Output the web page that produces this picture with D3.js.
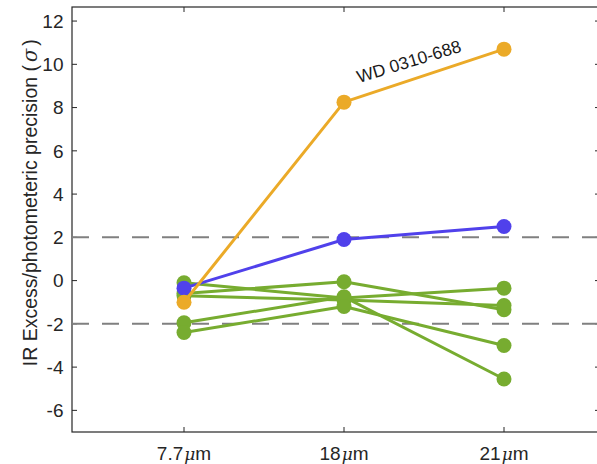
<!DOCTYPE html>
<html><head><meta charset="utf-8">
<script src="https://cdn.jsdelivr.net/npm/d3@7"></script>
<style>body{margin:0;background:#fff}svg{display:block}</style>
</head><body>
<svg id="c" width="597" height="464"></svg>
<script>
const categories = ["7.7", "18", "21"];
const yTicks = [-6,-4,-2,0,2,4,6,8,10,12];
const orangeSeries = [-1.0, 8.25, 10.7];
const blueSeries = [-0.35, 1.9, 2.5];
const greenSeries = [
  [-0.1, -0.8, -0.35],
  [-0.6, -0.05, -1.35],
  [-0.7, -0.9, -1.15],
  [-1.95, -0.75, -4.55],
  [-2.4, -1.2, -3.0]
];
const thresholds = [2, -2];
const annotation = "WD 0310-688";

const svg = d3.select("#c");
const x = d3.scaleLinear().domain([0.3, 3.6]).range([72, 600]);
const y = d3.scaleLinear().domain([-7, 12.65]).range([432, 7]);
const font = "'Liberation Sans', Helvetica, Arial, sans-serif";
const axisColor = "#262626";

// frame
svg.append("rect").attr("x", 72).attr("y", 7).attr("width", 600-72).attr("height", 425)
  .attr("fill", "none").attr("stroke", axisColor).attr("stroke-width", 1.2);

// y ticks
const ya = svg.append("g");
yTicks.forEach(t => {
  ya.append("line").attr("x1", 72).attr("x2", 77).attr("y1", y(t)).attr("y2", y(t)).attr("stroke", axisColor);
  ya.append("line").attr("x1", 600).attr("x2", 595).attr("y1", y(t)).attr("y2", y(t)).attr("stroke", axisColor);
  ya.append("text").attr("x", 63.5).attr("y", y(t)).attr("dy", "0.36em").attr("text-anchor", "end")
    .attr("font-family", font).attr("font-size", 19).attr("fill", axisColor).text(t);
});
// x ticks
categories.forEach((c, i) => {
  const xx = x(i + 1);
  svg.append("line").attr("x1", xx).attr("x2", xx).attr("y1", 432).attr("y2", 427).attr("stroke", axisColor);
  svg.append("line").attr("x1", xx).attr("x2", xx).attr("y1", 7).attr("y2", 12).attr("stroke", axisColor);
  const t = svg.append("text").attr("x", xx).attr("y", 460).attr("text-anchor", "middle")
    .attr("font-family", font).attr("font-size", 19).attr("fill", axisColor);
  t.append("tspan").text(c);
  t.append("tspan").attr("font-style", "italic").attr("font-family", "'DejaVu Serif', serif").attr("font-size", 17).attr("dx", 1).text("\u03bc");
  t.append("tspan").text("m");
});
// y label
const yl = svg.append("text").attr("transform", `translate(37,${y(3.6)}) rotate(-90)`)
  .attr("text-anchor", "middle").attr("font-family", font).attr("font-size", 19.5).attr("fill", axisColor);
yl.append("tspan").text("IR Excess/photometeric precision (");
yl.append("tspan").attr("font-style", "italic").attr("font-family", "'DejaVu Serif', serif").attr("dx", 3).text("\u03c3");
yl.append("tspan").attr("dx", 3).text(")");

// thresholds
thresholds.forEach(v => {
  svg.append("line").attr("x1", 72).attr("x2", 600).attr("y1", y(v)).attr("y2", y(v))
    .attr("stroke", "#808080").attr("stroke-width", 2).attr("stroke-dasharray", "17,13");
});

const line = d3.line().x((d, i) => x(i + 1)).y(d => y(d));
function drawSeries(vals, color) {
  svg.append("path").datum(vals).attr("d", line).attr("fill", "none")
    .attr("stroke", color).attr("stroke-width", 3).attr("stroke-linejoin", "round");
  svg.selectAll(null).data(vals).enter().append("circle")
    .attr("cx", (d, i) => x(i + 1)).attr("cy", d => y(d)).attr("r", 7.5).attr("fill", color);
}
greenSeries.forEach(s => drawSeries(s, "#77AC30"));
drawSeries(blueSeries, "#5041EB");
drawSeries(orangeSeries, "#EBAA28");

// annotation
svg.append("text").attr("transform", `translate(359,83) rotate(-17)`)
  .attr("font-family", font).attr("font-size", 17.5).attr("fill", "#1a1a1a").text(annotation);
</script>
</body></html>
